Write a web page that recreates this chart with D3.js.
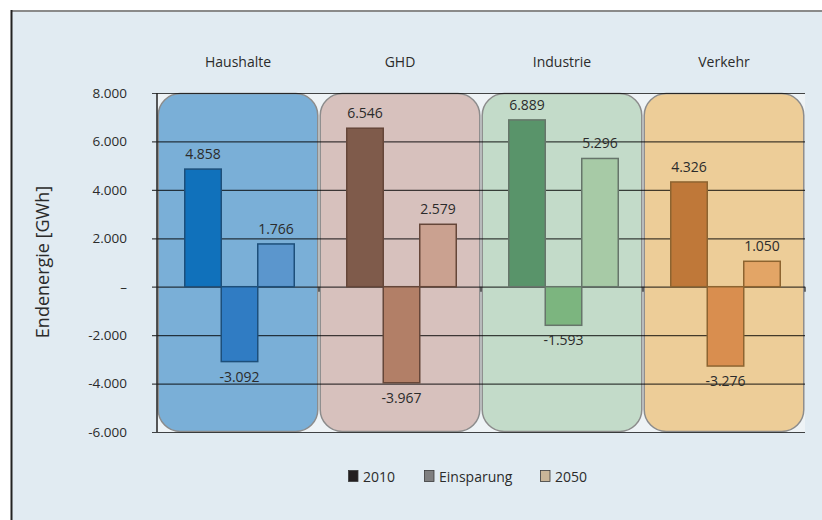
<!DOCTYPE html>
<html>
<head>
<meta charset="utf-8">
<script src="https://cdn.jsdelivr.net/npm/d3@7"></script>
<style>
  html, body { margin: 0; padding: 0; background: #ffffff; }
  svg { display: block; }
  text { font-family: "Open Sans", "Noto Sans", sans-serif; fill: #2b2b2b; }
</style>
</head>
<body>
<svg id="chart" width="822" height="520"></svg>
<script>
// Sectors and series
const categories = ["Haushalte", "GHD", "Industrie", "Verkehr"];
const seriesNames = ["2010", "Einsparung", "2050"];

// Final energy per sector in GWh
const values2010 = [4858, 6546, 6889, 4326];
const valuesEinsparung = [-3092, -3967, -1593, -3276];
const values2050 = [1766, 2579, 5296, 1050];

// Y axis ticks
const yTickValues = [-6000, -4000, -2000, 0, 2000, 4000, 6000, 8000];
const yTickLabels = ["-6.000", "-4.000", "-2.000", "–", "2.000", "4.000", "6.000", "8.000"];

// Sector colours: background panel, bar outline, and one fill per series
const panelColors = ["#7aafd7", "#d7c1bd", "#c3dbc9", "#edcd98"];
const outlineColors = ["#1d4f7a", "#654639", "#66756a", "#8d6430"];
const fill2010 = ["#1071bb", "#7f5b4b", "#59946a", "#bf7839"];
const fillEinsparung = ["#307cc3", "#b27f67", "#7cb57f", "#d98e4f"];
const fill2050 = ["#5b96cd", "#caa190", "#a7caa6", "#e3a566"];

// Legend swatches
const legendFills = ["#231f20", "#7f7f80", "#c9b598"];

const seriesValues = [values2010, valuesEinsparung, values2050];
const seriesFills = [fill2010, fillEinsparung, fill2050];

const rows = [];
categories.forEach((c, i) => {
  seriesNames.forEach((s, j) => {
    rows.push({ cat: c, ci: i, series: s, value: seriesValues[j][i], fill: seriesFills[j][i], stroke: outlineColors[i] });
  });
});

const de = d3.formatLocale({ decimal: ",", thousands: ".", grouping: [3], currency: ["", " €"], minus: "-" });
const fmt = de.format(",");

const svg = d3.select("#chart");

// Page frame
svg.append("rect").attr("x", 12).attr("y", 11).attr("width", 810).attr("height", 509).attr("fill", "#e1ebf2");
svg.append("line").attr("x1", 11).attr("x2", 822).attr("y1", 11).attr("y2", 11).attr("stroke", "#8a8a8a").attr("stroke-width", 2);
svg.append("line").attr("x1", 11.5).attr("x2", 11.5).attr("y1", 10).attr("y2", 520).attr("stroke", "#222222").attr("stroke-width", 2);

const plotLeft = 157, plotRight = 805, plotTop = 93, plotBottom = 432;

const x = d3.scaleBand().domain(categories).range([plotLeft, plotRight]);
const y = d3.scaleLinear().domain([-6000, 8000]).range([plotBottom, plotTop]);
const barW = 36.5;
const xs = d3.scaleBand().domain(seriesNames).range([0, barW * 3]);
const groupOffset = (x.bandwidth() - barW * 3) / 2 + 1.5;

// Plot background
svg.append("rect")
  .attr("x", plotLeft).attr("y", plotTop)
  .attr("width", plotRight - plotLeft).attr("height", plotBottom - plotTop)
  .attr("fill", "#eef3f6");

// Rounded sector panels
svg.append("g").selectAll("rect").data(categories).join("rect")
  .attr("x", d => x(d) + 1.2)
  .attr("y", plotTop + 0.5)
  .attr("width", x.bandwidth() - 2.4)
  .attr("height", plotBottom - plotTop - 1)
  .attr("rx", 22).attr("ry", 22)
  .attr("fill", (d, i) => panelColors[i])
  .attr("stroke", "#8c8c8c")
  .attr("stroke-width", 1.5);

// Gridlines with ticks
const yAxis = d3.axisLeft(y)
  .tickValues(yTickValues)
  .tickSize(-(plotRight - plotLeft))
  .tickFormat((d, i) => yTickLabels[i]);
const gy = svg.append("g").attr("transform", `translate(${plotLeft},0)`).call(yAxis);
gy.select(".domain").remove();
gy.selectAll(".tick line")
  .attr("x1", -5)
  .attr("stroke", "#000000")
  .attr("stroke-opacity", 0.72)
  .attr("stroke-width", 1.2);
gy.selectAll(".tick text")
  .attr("x", -30)
  .attr("font-size", 13.5)
  .attr("fill", "#2b2b2b")
  .style("font-family", "'Open Sans', 'Noto Sans', sans-serif");

// Left axis line
svg.append("line")
  .attr("x1", plotLeft).attr("x2", plotLeft)
  .attr("y1", plotTop).attr("y2", plotBottom)
  .attr("stroke", "#222222").attr("stroke-width", 1.5);

// Category ticks on the zero line
svg.append("g").selectAll("line").data(categories.slice(1).concat(["end"])).join("line")
  .attr("x1", (d, i) => plotLeft + x.bandwidth() * (i + 1))
  .attr("x2", (d, i) => plotLeft + x.bandwidth() * (i + 1))
  .attr("y1", y(0)).attr("y2", y(0) + 5)
  .attr("stroke", "#222222").attr("stroke-width", 1.2);

// Bars
svg.append("g").selectAll("rect").data(rows).join("rect")
  .attr("x", d => x(d.cat) + groupOffset + xs(d.series))
  .attr("y", d => y(Math.max(0, d.value)))
  .attr("width", barW)
  .attr("height", d => Math.abs(y(d.value) - y(0)))
  .attr("fill", d => d.fill)
  .attr("stroke", d => d.stroke)
  .attr("stroke-width", 1.5);

// Value labels
svg.append("g").selectAll("text").data(rows).join("text")
  .attr("x", d => x(d.cat) + groupOffset + xs(d.series) + barW / 2)
  .attr("y", d => d.value >= 0 ? y(d.value) - 10 : y(d.value) + 20)
  .attr("text-anchor", "middle")
  .attr("font-size", 14)
  .text(d => fmt(d.value));

// Category headers
svg.append("g").selectAll("text").data(categories).join("text")
  .attr("x", d => x(d) + x.bandwidth() / 2)
  .attr("y", 67)
  .attr("text-anchor", "middle")
  .attr("font-size", 14)
  .text(d => d);

// Y axis title
svg.append("text")
  .attr("transform", "translate(49,262) rotate(-90)")
  .attr("text-anchor", "middle")
  .attr("font-size", 18)
  .text("Endenergie [GWh]");

// Legend
const legendX = [348, 424, 540];
const lg = svg.append("g").selectAll("g").data(seriesNames).join("g")
  .attr("transform", (d, i) => `translate(${legendX[i]},470)`);
lg.append("rect")
  .attr("x", 0.5).attr("y", 0.5).attr("width", 9.5).attr("height", 11)
  .attr("fill", (d, i) => legendFills[i])
  .attr("stroke", "#3a3a3a").attr("stroke-width", 0.8);
lg.append("text")
  .attr("x", 15).attr("y", 11.5)
  .attr("font-size", 14)
  .text(d => d);
</script>
</body>
</html>
